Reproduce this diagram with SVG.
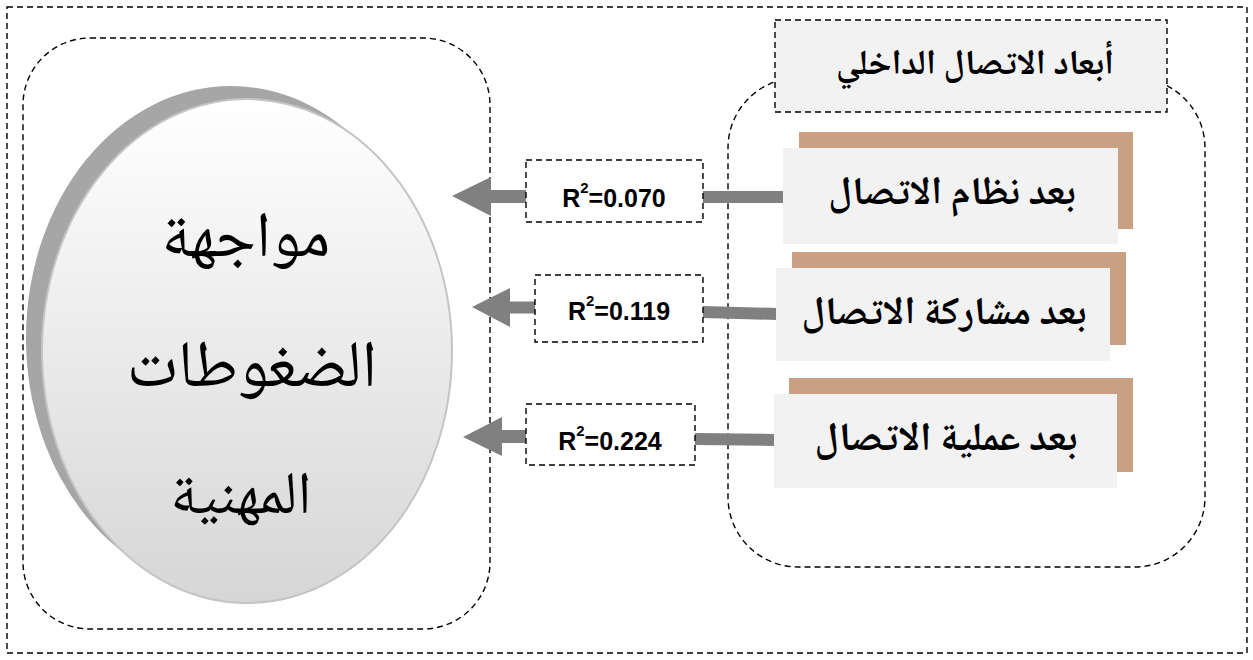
<svg xmlns="http://www.w3.org/2000/svg" width="1253" height="660" viewBox="0 0 1253 660">
<defs>
<linearGradient id="gball" x1="0" y1="0" x2="0" y2="1">
<stop offset="0" stop-color="#ffffff"/>
<stop offset="1" stop-color="#d6d6d6"/>
</linearGradient>
<style>
.dash{fill:none;stroke:#000;stroke-width:1.4;stroke-dasharray:6 4}
.rbox{fill:#fff;stroke:#000;stroke-width:1.4;stroke-dasharray:6 4}
.tbox{fill:#f2f2f2;stroke:#000;stroke-width:1.4;stroke-dasharray:6 4}
.shadow{fill:#c9a083}
.card{fill:#f2f2f2}
.conn{fill:#808080}
.ar{font-family:"Noto Naskh Arabic","Noto Sans Arabic","DejaVu Sans",sans-serif;fill:#000;text-anchor:middle}
.b{font-weight:bold}
.r2{font-family:"Liberation Sans",Arial,sans-serif;font-weight:bold;font-size:25px;fill:#000;text-anchor:middle}
</style>
</defs>
<rect class="dash" x="7" y="7" width="1240" height="646"/>
<g id="target-frame">
<rect class="dash" x="23" y="38" width="467" height="591" rx="67" ry="67"/>
</g>
<g id="target">
<ellipse cx="231" cy="338" rx="205" ry="252" fill="#a6a6a6"/>
<ellipse cx="247" cy="351" rx="205" ry="252" fill="url(#gball)" stroke="#c4c4c4" stroke-width="2"/>
<text class="ar" font-size="64" x="246" y="256">مواجهة</text>
<text class="ar" font-size="66" x="252" y="386">الضغوطات</text>
<text class="ar" font-size="60" x="241" y="513">المهنية</text>
</g>
<g id="dimensions-frame">
<rect class="dash" x="728" y="78" width="477" height="489" rx="70" ry="70"/>
</g>
<g id="title">
<rect class="tbox" x="775" y="20" width="392" height="92"/>
<text class="ar b" font-size="35" x="975" y="74" direction="rtl">أبعاد الاتصال الداخلي</text>
</g>
<g id="connectors">
<polygon class="conn" points="526,190 491,190 491,177 452,196 491,216 491,203 526,203"/>
<polygon class="conn" points="703,191 790,191 790,203 703,203"/>
<polygon class="conn" points="535,301.5 510,301.5 510,288 472,307 510,327 510,313.5 535,313.5"/>
<polygon class="conn" points="703,306 777,308 777,320 703,318"/>
<polygon class="conn" points="526,430 502,430 502,417 463,437 502,456 502,443 526,443"/>
<polygon class="conn" points="695,433 775,434 775,446 695,445"/>
</g>
<g id="r2-1">
<rect class="rbox" x="526" y="160" width="177" height="62"/>
<text class="r2" x="614" y="207">R<tspan font-size="15" dy="-14">2</tspan><tspan dy="14">=0.070</tspan></text>
</g>
<g id="r2-2">
<rect class="rbox" x="535" y="275" width="168" height="67"/>
<text class="r2" x="619" y="320">R<tspan font-size="15" dy="-14">2</tspan><tspan dy="14">=0.119</tspan></text>
</g>
<g id="r2-3">
<rect class="rbox" x="526" y="404" width="169" height="61"/>
<text class="r2" x="610" y="450">R<tspan font-size="15" dy="-14">2</tspan><tspan dy="14">=0.224</tspan></text>
</g>
<g id="dim-1">
<rect class="shadow" x="799" y="132" width="334" height="97"/>
<rect class="card" x="783" y="148" width="335" height="96"/>
<text class="ar b" font-size="39" x="952" y="204" direction="rtl">بعد نظام الاتصال</text>
</g>
<g id="dim-2">
<rect class="shadow" x="792" y="252" width="334" height="93"/>
<rect class="card" x="776" y="268" width="334" height="93"/>
<text class="ar b" font-size="39" x="944" y="324" direction="rtl">بعد مشاركة الاتصال</text>
</g>
<g id="dim-3">
<rect class="shadow" x="789" y="378" width="344" height="94"/>
<rect class="card" x="774" y="394" width="343" height="94"/>
<text class="ar b" font-size="40" x="946" y="450" direction="rtl">بعد عملية الاتصال</text>
</g>
</svg>
